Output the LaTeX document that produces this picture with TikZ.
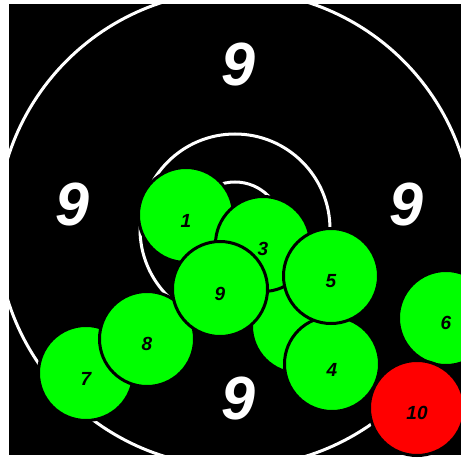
\documentclass[tikz,border=0pt]{standalone}
\usepackage{fontspec}
\setmainfont{Liberation Sans}
\definecolor{hitgreen}{RGB}{0,255,0}
\definecolor{hitred}{RGB}{255,0,0}
\usetikzlibrary{positioning}

\tikzset{
    ring/.style={draw=white, line width=3pt},
    zone/.style={text=white, font=\fontsize{61}{61}\selectfont\bfseries\itshape},
    shot/.style={circle, draw=black, line width=3pt, fill=hitgreen, minimum size=95pt, inner sep=0pt,
        text height=24pt, font=\fontsize{19}{19}\selectfont\bfseries\itshape},
    lastshot/.style={shot, fill=hitred}
}

\begin{document}
\begin{tikzpicture}[x=1pt, y=-1pt]
    \useasboundingbox (0,0) rectangle (461,460);
    \fill[black] (9,4) rectangle (461,455);

    \draw[ring] (235,229) circle (238);
    \draw[ring] (235,229) circle (95);
    \draw[ring] (235,229) circle (47);

    \node[zone] (ztop) at (238,65) {9};
    \node[zone] (zleft) at (72,205) {9};
    \node[zone] (zright) at (406,205) {9};
    \node[zone] (zbottom) at (238,398) {9};

    \node[shot] (s1) at (186,215) {1};
    \node[shot] (s2) at (299,326) {};
    \node[shot] (s3) at (263,244) {3};
    \node[shot] (s4) at (332,364) {4};
    \node[shot] (s5) at (331,276) {5};
    \node[shot] (s6) at (446,318) {6};
    \node[shot] (s7) at (86,373) {7};
    \node[shot] (s8) at (147,339) {8};
    \node[shot] (s9) at (220,289) {9};
    \node[lastshot] (s10) at (417,408) {10};
\end{tikzpicture}
\end{document}
